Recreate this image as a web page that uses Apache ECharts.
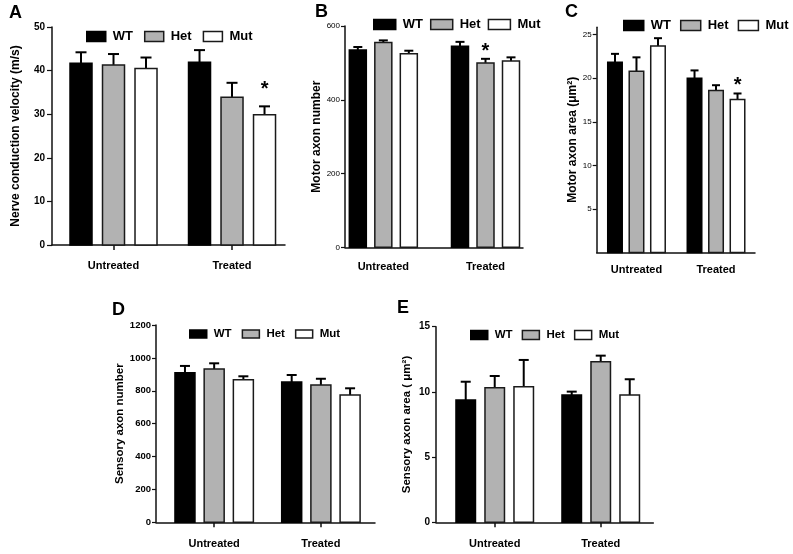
<!DOCTYPE html>
<html><head><meta charset="utf-8">
<script src="https://cdn.jsdelivr.net/npm/echarts@6/dist/echarts.min.js"></script>
<style>html,body{margin:0;padding:0;background:#fff}#c{width:793px;height:554px}</style>
</head><body><div id="c"></div>
<script>
// ---------- data ----------
const categories = ['Untreated', 'Treated'];
const seriesNames = ['WT', 'Het', 'Mut'];

// A: Nerve conduction velocity (m/s)
const aWT = [41.7, 41.9],  aWTErr = [2.5, 2.8];
const aHet = [41.3, 33.9], aHetErr = [2.5, 3.3];
const aMut = [40.5, 29.9], aMutErr = [2.5, 1.9];
const aStars = [[0, 0], [0, 0], [0, 1]];
const aTicks = [0, 10, 20, 30, 40, 50];

// B: Motor axon number
const bWT = [535, 545],  bWTErr = [8, 12];
const bHet = [555, 500], bHetErr = [6, 11];
const bMut = [525, 505], bMutErr = [8, 10];
const bStars = [[0, 0], [0, 1], [0, 0]];
const bTicks = [0, 200, 400, 600];

// C: Motor axon area (um2)
const cWT = [21.85, 20.0], cWTErr = [0.95, 0.9];
const cHet = [20.8, 18.6], cHetErr = [1.6, 0.6];
const cMut = [23.7, 17.55], cMutErr = [0.9, 0.7];
const cStars = [[0, 0], [0, 0], [0, 1]];
const cTicks = [5, 10, 15, 20, 25];

// D: Sensory axon number
const dWT = [910, 853],  dWTErr = [41, 43];
const dHet = [932, 835], dHetErr = [35, 38];
const dMut = [867, 774], dMutErr = [21, 41];
const dStars = [[0, 0], [0, 0], [0, 0]];
const dTicks = [0, 200, 400, 600, 800, 1000, 1200];

// E: Sensory axon area (um2)
const eWT = [9.38, 9.76],  eWTErr = [1.4, 0.26];
const eHet = [10.32, 12.32], eHetErr = [0.9, 0.46];
const eMut = [10.4, 9.76], eMutErr = [2.05, 1.21];
const eStars = [[0, 0], [0, 0], [0, 0]];
const eTicks = [0, 5, 10, 15];

// ---------- layout / style ----------
const FONT = 'Liberation Sans, Arial, sans-serif';
const fills = ['#000000', '#b2b2b2', '#ffffff'];
const strokes = ['#000000', '#1a1a1a', '#1a1a1a'];

const panels = [
  { letter: 'A', lx: 9, ly: 4, values: [aWT, aHet, aMut], errs: [aWTErr, aHetErr, aMutErr], stars: aStars, ticks: aTicks,
    grid: { left: 52, top: 27, width: 233, height: 218 }, xMin: -0.519, xMax: 1.447, yMax: 50,
    bw: 22, sp: 32.5, cap: 11, starGap: 6.5, yName: 'Nerve conduction velocity (m/s)', nameGap: 30, nameSize: 12,
    tickFont: { fontSize: 10, fontWeight: 'bold' }, tickLen: 5, tickMargin: 7, xTicks: true, xMargin: 15,
    legend: { left: 86, top: 30, w: 19, h: 10, gap: 11, fs: 13 } },
  { letter: 'B', lx: 315, ly: 3, values: [bWT, bHet, bMut], errs: [bWTErr, bHetErr, bMutErr], stars: bStars, ticks: bTicks,
    grid: { left: 345, top: 26, width: 178, height: 221.3 }, xMin: -0.375, xMax: 1.367, yMax: 600,
    bw: 17, sp: 25.5, cap: 9, starGap: -3, yName: 'Motor axon number', nameGap: 18, nameSize: 12,
    tickFont: { fontSize: 8, fontWeight: 'normal' }, tickLen: 4, tickMargin: 5, xTicks: false, xMargin: 14,
    legend: { left: 373, top: 18, w: 22, h: 10, gap: 7, fs: 13 } },
  { letter: 'C', lx: 565, ly: 3, values: [cWT, cHet, cMut], errs: [cWTErr, cHetErr, cMutErr], stars: cStars, ticks: cTicks,
    grid: { left: 596.7, top: 27.3, width: 158.3, height: 225.1 }, xMin: -0.5, xMax: 1.49, yMax: 25.85,
    bw: 14.5, sp: 21.5, cap: 8, starGap: -2, yName: 'Motor axon area (μm²)', nameGap: 17, nameSize: 12,
    tickFont: { fontSize: 8, fontWeight: 'normal' }, tickLen: 4, tickMargin: 5, xTicks: false, xMargin: 12,
    legend: { left: 623, top: 19, w: 20, h: 10, gap: 9, fs: 13 } },
  { letter: 'D', lx: 112, ly: 301, values: [dWT, dHet, dMut], errs: [dWTErr, dHetErr, dMutErr], stars: dStars, ticks: dTicks,
    grid: { left: 156, top: 325, width: 219, height: 197.3 }, xMin: -0.545, xMax: 1.507, yMax: 1200,
    bw: 20, sp: 29.2, cap: 10, starGap: 3, yName: 'Sensory axon number', nameGap: 29, nameSize: 11.5,
    tickFont: { fontSize: 9.5, fontWeight: 'bold' }, tickLen: 4, tickMargin: 5, xTicks: true, xMargin: 16,
    legend: { left: 189, top: 328, w: 17, h: 8, gap: 10, fs: 11.5 } },
  { letter: 'E', lx: 397, ly: 299, values: [eWT, eHet, eMut], errs: [eWTErr, eHetErr, eMutErr], stars: eStars, ticks: eTicks,
    grid: { left: 436, top: 326.7, width: 217.3, height: 195.6 }, xMin: -0.554, xMax: 1.496, yMax: 15,
    bw: 19.5, sp: 29, cap: 10, starGap: 3, yName: 'Sensory axon area ( μm²)', nameGap: 23, nameSize: 11.5,
    tickFont: { fontSize: 10, fontWeight: 'bold' }, tickLen: 4, tickMargin: 6, xTicks: true, xMargin: 16,
    legend: { left: 470, top: 329, w: 17, h: 9, gap: 9, fs: 11.5 } }
];

function makeRender(p, s) {
  return function (params, api) {
    const cat = api.value(0), v = api.value(1), e = api.value(2), star = api.value(3);
    const c = api.coord([cat, v]);
    const b = api.coord([cat, 0]);
    const t = api.coord([cat, v + e]);
    const cx = c[0] + (s - 1) * p.sp;
    const children = [
      { type: 'line', shape: { x1: cx, y1: c[1], x2: cx, y2: t[1] }, style: { stroke: '#000', lineWidth: 2 } },
      { type: 'line', shape: { x1: cx - p.cap / 2, y1: t[1], x2: cx + p.cap / 2, y2: t[1] }, style: { stroke: '#000', lineWidth: 2 } },
      { type: 'rect', shape: { x: cx - p.bw / 2, y: c[1], width: p.bw, height: b[1] - c[1] },
        style: { fill: fills[s], stroke: strokes[s], lineWidth: 1.5 } }
    ];
    if (star) {
      children.push({ type: 'text', style: { text: '*', x: cx, y: t[1] - p.starGap, align: 'center', verticalAlign: 'bottom',
        fontSize: 20, fontWeight: 'bold', fontFamily: FONT, fill: '#000' } });
    }
    return { type: 'group', children };
  };
}

const option = { animation: false, backgroundColor: '#fff', title: [], grid: [], xAxis: [], yAxis: [], legend: [], series: [] };

panels.forEach((p, i) => {
  option.title.push({ text: p.letter, left: p.lx, top: p.ly, padding: 0,
    textStyle: { fontSize: 18, fontWeight: 'bold', fontFamily: FONT, color: '#000' } });
  option.grid.push(Object.assign({ containLabel: false }, p.grid));
  option.xAxis.push({
    type: 'value', gridIndex: i, min: p.xMin, max: p.xMax,
    axisLine: { show: true, onZero: false, lineStyle: { color: '#111', width: 1.5 } },
    axisTick: { show: p.xTicks, length: 5, customValues: [0, 1], lineStyle: { color: '#111', width: 1.5 } },
    axisLabel: { customValues: [0, 1], margin: p.xMargin, formatter: v => categories[Math.round(v)],
      fontSize: 11, fontWeight: 'bold', fontFamily: FONT, color: '#000' },
    splitLine: { show: false }
  });
  option.yAxis.push({
    type: 'value', gridIndex: i, min: 0, max: p.yMax,
    name: p.yName, nameLocation: 'middle', nameGap: p.nameGap,
    nameTextStyle: { fontSize: p.nameSize, fontWeight: 'bold', fontFamily: FONT, color: '#000' },
    axisLine: { show: true, onZero: false, lineStyle: { color: '#111', width: 1.5 } },
    axisTick: { show: true, length: p.tickLen, customValues: p.ticks, lineStyle: { color: '#111', width: 1.2 } },
    axisLabel: { customValues: p.ticks, margin: p.tickMargin, fontSize: p.tickFont.fontSize, fontWeight: p.tickFont.fontWeight,
      fontFamily: FONT, color: '#000', formatter: v => String(v) },
    splitLine: { show: false }
  });
  const L = p.legend;
  option.legend.push({
    left: L.left, top: L.top, width: 260, orient: 'horizontal', itemWidth: L.w, itemHeight: L.h, itemGap: L.gap, padding: 0,
    selectedMode: false, icon: 'rect',
    textStyle: { fontSize: L.fs, fontWeight: 'bold', fontFamily: FONT, color: '#000', padding: [0, 0, 0, 2] },
    data: seriesNames.map((n, s) => ({ name: n, icon: 'rect',
      itemStyle: { color: fills[s], borderColor: strokes[s], borderWidth: 1.5 } }))
  });
  seriesNames.forEach((n, s) => {
    option.series.push({
      type: 'custom', name: n, xAxisIndex: i, yAxisIndex: i,
      itemStyle: { color: fills[s], borderColor: strokes[s] },
      encode: { x: 0, y: 1 },
      renderItem: makeRender(p, s),
      data: categories.map((c, k) => [k, p.values[s][k], p.errs[s][k], p.stars[s][k]])
    });
  });
});

const chart = echarts.init(document.getElementById('c'), null, { renderer: 'canvas' });
chart.setOption(option);
</script>
</body></html>
